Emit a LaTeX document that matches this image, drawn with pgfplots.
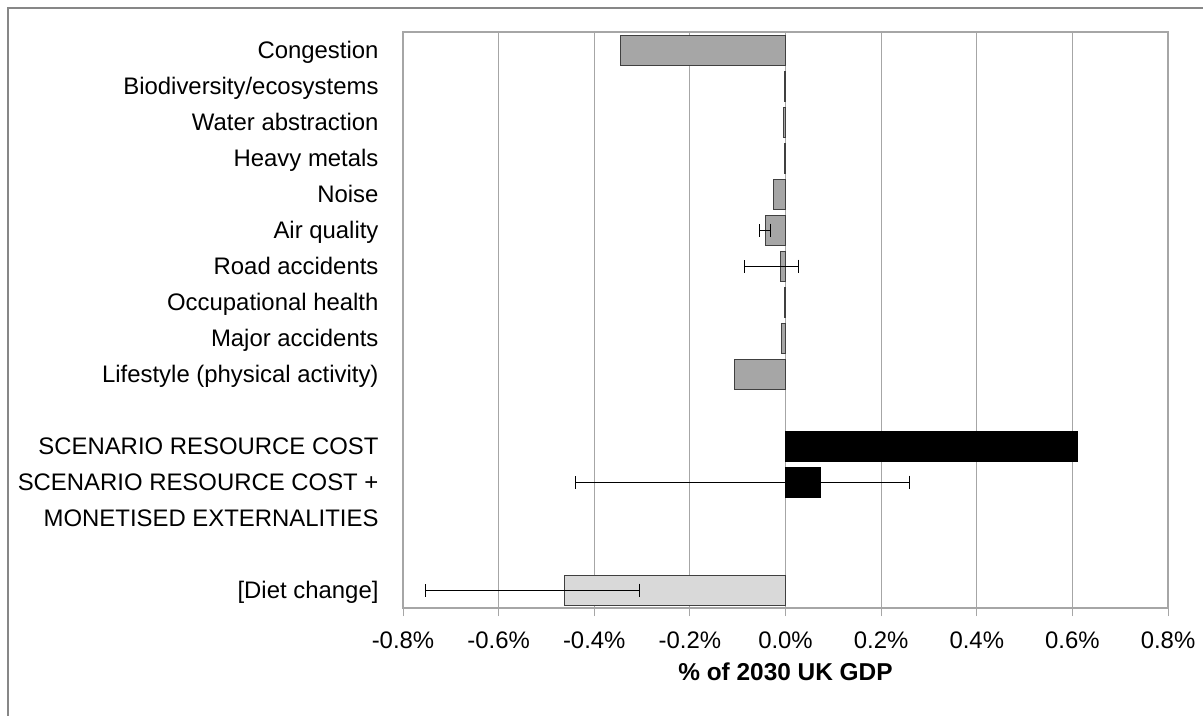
\documentclass[border=0pt]{standalone}
\usepackage{fontspec}
\setmainfont{Liberation Sans}
\usepackage{pgfplots}
\pgfplotsset{compat=1.18}
\definecolor{barg}{HTML}{A6A6A6}
\definecolor{bard}{HTML}{D9D9D9}
\definecolor{edg}{HTML}{404040}
\definecolor{gridc}{HTML}{A6A6A6}
\definecolor{framec}{HTML}{878787}
\begin{document}
\begin{tikzpicture}[x=1bp,y=1bp]
\path[use as bounding box] (0,0) rectangle (1203,-716);
\fill[white] (0,0) rectangle (1203,-716);
\draw[framec, line width=2.5bp] (8,-716) -- (8,-8) -- (1203,-8);
\begin{axis}[
  at={(403bp,-608bp)}, anchor=south west,
  scale only axis, width=765bp, height=576bp,
  xmin=-0.8, xmax=0.8,
  ymin=-0.5, ymax=15.5, y dir=reverse,
  xbar, bar width=30bp, bar shift=0pt,
  xtick={-0.8,-0.6,-0.4,-0.2,0,0.2,0.4,0.6,0.8},
  xticklabels={-0.8\%,-0.6\%,-0.4\%,-0.2\%,0.0\%,0.2\%,0.4\%,0.6\%,0.8\%},
  ytick={0,1,2,3,4,5,6,7,8,9,11,12,13,15},
  yticklabels={Congestion,Biodiversity/ecosystems,Water abstraction,Heavy metals,Noise,Air quality,Road accidents,Occupational health,Major accidents,Lifestyle (physical activity),SCENARIO RESOURCE COST,SCENARIO RESOURCE COST +,MONETISED EXTERNALITIES,[Diet change]},
  xmajorgrids, major grid style={gridc, line width=1bp},
  axis line style={gridc, line width=1.3bp},
  xtick pos=left, ytick style={draw=none},
  x tick style={gridc, line width=1bp}, tick align=outside, major tick length=8bp,
  tick label style={font=\fontsize{24}{28}\selectfont, text=black},
  xticklabel style={yshift=-12bp},
  yticklabel style={xshift=-13bp, text height=17.2bp, text depth=0bp},
  xlabel={\bfseries\% of 2030 UK GDP},
  xlabel style={font=\fontsize{24.5}{28}\selectfont, at={(axis description cs:0.5,0)}, anchor=north, yshift=-51bp},
  error bars/error bar style={black, line width=1bp},
  error bars/error mark options={black, rotate=90, mark size=6.5bp, line width=1bp},
]
% grey bars without error bars
\addplot[fill=barg, draw=edg, line width=1bp] coordinates {
  (-0.346,0) (-0.002,1) (-0.005,2) (-0.002,3) (-0.0245,4) (-0.002,7) (-0.008,8) (-0.106,9)
};
% grey bars with error bars
\addplot[fill=barg, draw=edg, line width=1bp, error bars/.cd, x dir=both, x explicit] coordinates {
  (-0.042,5) += (0.011,0) -= (0.012,0)
  (-0.010,6) += (0.037,0) -= (0.076,0)
};
% black bars
\addplot[fill=black, draw=black, line width=1bp] coordinates {(0.611,11)};
\addplot[fill=black, draw=black, line width=1bp, error bars/.cd, x dir=both, x explicit] coordinates {
  (0.074,12) += (0.186,0) -= (0.513,0)
};
% diet change
\addplot[fill=bard, draw=edg, line width=1bp, error bars/.cd, x dir=both, x explicit] coordinates {
  (-0.463,15) += (0.158,0) -= (0.289,0)
};
\end{axis}
\end{tikzpicture}
\end{document}
